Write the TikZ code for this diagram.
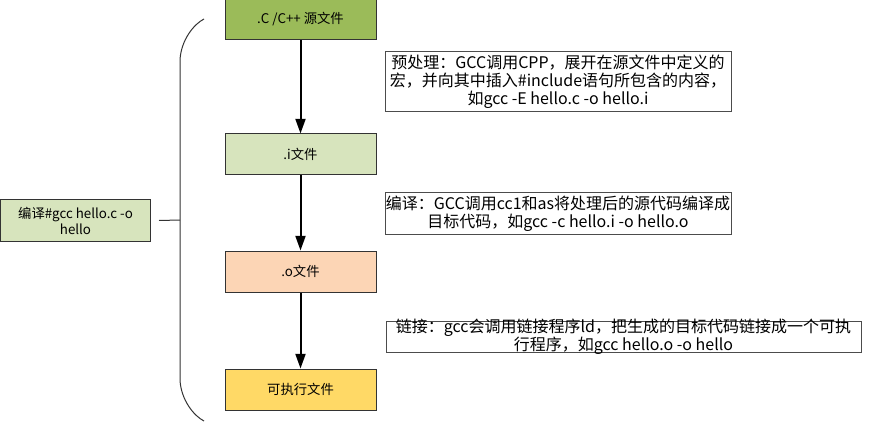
\documentclass[tikz,border=0pt]{standalone}
\usepackage{fontspec}
\setmainfont{Noto Sans CJK SC}
\usetikzlibrary{arrows.meta}
\usetikzlibrary{positioning}

\definecolor{srcgreen}{HTML}{9BBB59}
\definecolor{palegreen}{HTML}{D7E4BD}
\definecolor{peach}{HTML}{FCD5B5}
\definecolor{gold}{HTML}{FFD966}

\begin{document}
\begin{tikzpicture}[x=0.75pt,y=-0.75pt]
		\tikzset{
			file/.style={draw=black!80,line width=0.75pt,minimum width=113.25pt,minimum height=30.75pt,inner sep=0pt,font=\fontsize{10}{12}\selectfont},
			note/.style={draw=black!70,line width=0.75pt,fill=white,inner sep=0pt,align=center,font=\fontsize{12}{13.5}\selectfont},
			flow/.style={line width=1.5pt,-{Triangle[length=11pt,width=7.5pt]}}
		}
		\useasboundingbox (0,0) rectangle (873,445);
		% files of the build chain
		\node[file,fill=srcgreen] (src) at (300.5,19.5) {.C /C++ 源文件};
		\node[file,fill=palegreen] (ifile) at (300.5,154.5) {.i文件};
		\node[file,fill=peach] (ofile) at (300.5,271.5) {.o文件};
		\node[file,fill=gold] (exe) at (300.5,389.5) {可执行文件};
		\node[file,fill=palegreen,minimum width=112.5pt,align=center] (cmd) at (75.5,220.5) {编译\#gcc hello.c -o\\hello};
		% notes
		\node[note,minimum width=259.5pt,minimum height=45pt] (pre) at (558,82)
			{预处理：GCC调用CPP，展开在源文件中定义的\\宏，并向其中插入\#include语句所包含的内容，\\如gcc -E hello.c -o hello.i};
		\node[note,minimum width=259.5pt,minimum height=30.75pt] (comp) at (558,213.5)
			{编译：GCC调用cc1和as将处理后的源代码编译成\\目标代码，如gcc -c hello.i -o hello.o};
		\node[note,minimum width=356.25pt,minimum height=23.25pt] (link) at (623.5,336.5) {};
		\node[align=center,inner sep=0pt,font=\fontsize{12}{13.5}\selectfont] (linktext) at (link.center)
			{链接：gcc会调用链接程序ld，把生成的目标代码链接成一个可执\\行程序，如gcc hello.o -o hello};
		% arrows
		\draw[flow] (src) -- (ifile);
		\draw[flow] (ifile) -- (ofile);
		\draw[flow] (ofile) -- (exe);
		% brace
		\coordinate (btop) at (204,19);
		\coordinate (bbot) at (204,421);
		\coordinate (bmid) at (180,220);
		\draw[black!80,line width=0.75pt] (btop) .. controls (194,24) and (181,40) .. (180,60) -- (180,380) .. controls (181,400) and (194,416) .. (bbot);
		\draw[black!80,line width=0.75pt] ([xshift=6pt]cmd.east) -- (bmid);
\end{tikzpicture}
\end{document}
